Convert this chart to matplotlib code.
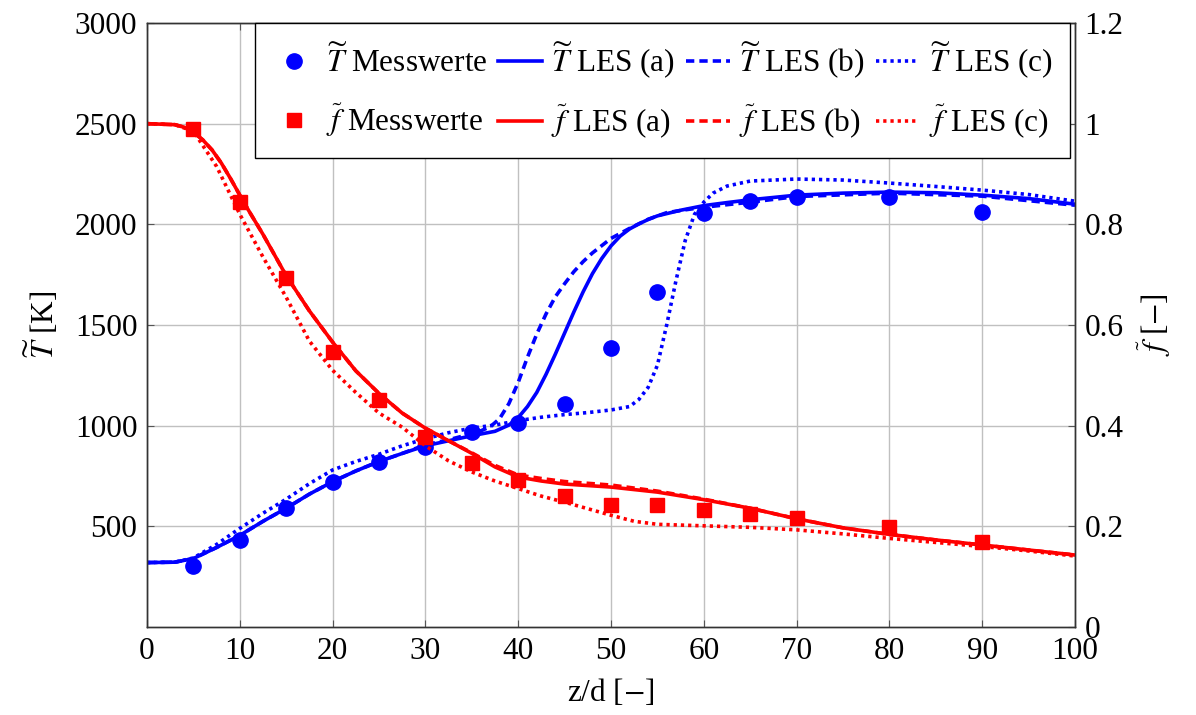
import matplotlib
matplotlib.use("Agg")
import matplotlib.pyplot as plt

plt.rcParams['font.family'] = ['Liberation Serif', 'DejaVu Serif']
plt.rcParams['mathtext.fontset'] = 'stix'
plt.rcParams['font.size'] = 22.5

# Messwerte (Temperatur, linke Achse)
z_T_mess = [5, 10, 15, 20, 25, 30, 35, 40, 45, 50, 55, 60, 65, 70, 80, 90]
T_mess = [302, 432, 591, 722, 822, 896, 968, 1013, 1110, 1384, 1664, 2056, 2118, 2134, 2134, 2060]

# Messwerte (Mischungsbruch, rechte Achse)
z_f_mess = [5, 10, 15, 20, 25, 30, 35, 40, 45, 50, 55, 60, 65, 70, 80, 90]
f_mess = [0.989, 0.845, 0.693, 0.547, 0.451, 0.378, 0.325, 0.292, 0.260, 0.243, 0.243, 0.233, 0.224, 0.216, 0.199, 0.168]

# LES (a)
z_Ta = [0, 3, 5, 7.5, 10, 12.5, 15, 17.5, 20, 22.5, 25, 27.5, 30, 32.5, 35, 37.5, 39, 40, 41, 42, 43, 44,
        45, 46, 47, 48, 49, 50, 51, 52, 53, 54, 55, 57.5, 60, 62.5, 65, 70, 75, 80, 85, 90, 95, 100]
T_a = [320, 322, 340, 395, 455, 525, 590, 660, 722, 775, 822, 862, 900, 925, 950, 972, 1003, 1040, 1095,
       1165, 1255, 1355, 1460, 1565, 1665, 1755, 1830, 1893, 1942, 1977, 2002, 2024, 2042, 2070, 2093,
       2108, 2122, 2145, 2155, 2160, 2157, 2145, 2128, 2100]

# LES (b)
z_Tb = [0, 3, 5, 7.5, 10, 12.5, 15, 17.5, 20, 22.5, 25, 27.5, 30, 32.5, 35, 36, 37, 38, 39, 40, 41, 42,
        43, 44, 45, 46, 47, 48, 50, 52, 54, 56, 58, 60, 65, 70, 80, 90, 100]
T_b = [320, 322, 340, 395, 455, 525, 590, 660, 722, 775, 822, 862, 905, 930, 960, 975, 995, 1035, 1110,
       1215, 1340, 1455, 1555, 1640, 1705, 1765, 1815, 1858, 1930, 1980, 2025, 2058, 2072, 2085, 2110,
       2138, 2155, 2140, 2095]

# LES (c)
z_Tc = [0, 3, 5, 7.5, 10, 12.5, 15, 17.5, 20, 22.5, 25, 27.5, 30, 32.5, 35, 37.5, 40, 42.5, 45, 47.5, 50,
        52, 53, 54, 55, 56, 57, 58, 59, 60, 61, 62.5, 65, 70, 75, 80, 85, 90, 95, 100]
T_c = [320, 322, 343, 410, 490, 565, 635, 712, 780, 822, 858, 900, 935, 965, 988, 1003, 1025, 1042, 1055,
       1065, 1078, 1095, 1130, 1190, 1300, 1500, 1720, 1920, 2050, 2110, 2155, 2190, 2215, 2225, 2220,
       2205, 2188, 2170, 2148, 2115]

z_f = [0, 3, 4, 5, 6, 7, 8, 9, 10, 11, 12.5, 15, 17.5, 20, 22.5, 25, 27.5, 30, 32.5, 35, 37.5, 40, 42.5,
       45, 50, 55, 60, 65, 70, 75, 80, 85, 90, 95, 100]
f_a = [1.0, 0.998, 0.993, 0.983, 0.968, 0.948, 0.922, 0.891, 0.858, 0.826, 0.78, 0.698, 0.628, 0.566,
       0.509, 0.464, 0.425, 0.395, 0.370, 0.345, 0.318, 0.298, 0.290, 0.284, 0.278, 0.268, 0.253, 0.236,
       0.215, 0.197, 0.184, 0.173, 0.163, 0.153, 0.143]
f_b = [1.0, 0.998, 0.993, 0.983, 0.968, 0.948, 0.922, 0.891, 0.858, 0.826, 0.78, 0.698, 0.628, 0.566,
       0.509, 0.464, 0.425, 0.395, 0.370, 0.346, 0.321, 0.302, 0.295, 0.289, 0.282, 0.270, 0.254, 0.236,
       0.215, 0.197, 0.184, 0.173, 0.163, 0.153, 0.143]

z_fc = [0, 3, 5, 7.5, 10, 12.5, 15, 17.5, 20, 22.5, 25, 27.5, 30, 32.5, 35, 37.5, 40, 42.5, 45, 47.5,
        50, 52.5, 55, 60, 65, 70, 75, 80, 85, 90, 95, 100]
f_c = [1.0, 0.998, 0.985, 0.915, 0.82, 0.735, 0.655, 0.568, 0.51, 0.466, 0.425, 0.397, 0.36, 0.33,
       0.308, 0.29, 0.275, 0.26, 0.248, 0.235, 0.222, 0.21, 0.204, 0.201, 0.198, 0.193, 0.185, 0.176,
       0.168, 0.160, 0.151, 0.141]

blau = '#0000ff'
rot = '#ff0000'
lw = 2.6
dash = (0, (2.3, 1.4))
dot = (0, (0.9, 1.1))

fig = plt.figure(figsize=(11.96, 7.15), dpi=100)
ax = fig.add_axes([147 / 1196, 1 - 627 / 715, 928 / 1196, 604 / 715])
ax2 = ax.twinx()

h_Tm, = ax.plot(z_T_mess, T_mess, 'o', color=blau, ms=11, zorder=5)
h_Ta, = ax.plot(z_Ta, T_a, '-', color=blau, lw=lw)
h_Tb, = ax.plot(z_Tb, T_b, color=blau, lw=lw, ls=dash, dash_capstyle='butt')
h_Tc, = ax.plot(z_Tc, T_c, color=blau, lw=lw, ls=dot, dash_capstyle='butt')

h_fm, = ax2.plot(z_f_mess, f_mess, 's', color=rot, ms=10.5, zorder=5)
h_fa, = ax2.plot(z_f, f_a, '-', color=rot, lw=lw)
h_fb, = ax2.plot(z_f, f_b, color=rot, lw=lw, ls=dash, dash_capstyle='butt')
h_fc, = ax2.plot(z_fc, f_c, color=rot, lw=lw, ls=dot, dash_capstyle='butt')

ax.set_xlim(0, 100)
ax.set_ylim(0, 3000)
ax2.set_ylim(0, 1.2)
ax.set_xticks(range(0, 101, 10))
ax.set_yticks([500, 1000, 1500, 2000, 2500, 3000])
ax2.set_yticks([0, 0.2, 0.4, 0.6, 0.8, 1.0, 1.2])
ax2.set_yticklabels(['0', '0.2', '0.4', '0.6', '0.8', '1', '1.2'])

ax.grid(True, color='#c0c0c0', lw=1.0)
ax.set_axisbelow(True)
ax.tick_params(axis='both', direction='in', length=5, color='#555555', top=True, pad=7)
ax2.tick_params(axis='y', direction='in', length=5, color='#555555', pad=7)
for a in (ax, ax2):
    for s in a.spines.values():
        s.set_color('#333333')
        s.set_linewidth(1.0)

ax.set_xlabel(r'z/d [$-$]', labelpad=8)
ax.set_ylabel(r'$\widetilde{T}$ [K]', labelpad=10)
ax2.set_ylabel(r'$\widetilde{f}$ [$-$]', labelpad=8)

handles = [h_Tm, h_fm, h_Ta, h_fa, h_Tb, h_fb, h_Tc, h_fc]
labels = [r'$\widetilde{T}$ Messwerte', r'$\widetilde{f}$ Messwerte',
          r'$\widetilde{T}$ LES (a)', r'$\widetilde{f}$ LES (a)',
          r'$\widetilde{T}$ LES (b)', r'$\widetilde{f}$ LES (b)',
          r'$\widetilde{T}$ LES (c)', r'$\widetilde{f}$ LES (c)']
leg = ax2.legend(handles, labels, ncol=4, loc='upper right', bbox_to_anchor=(0.9946, 1.0),
                 borderaxespad=0, fancybox=False, framealpha=1, edgecolor='black',
                 handlelength=1.4, handletextpad=0.3, columnspacing=0.35, labelspacing=0.7,
                 borderpad=0.55, numpoints=1, fontsize=22.5)
leg.get_frame().set_linewidth(1.0)

fig.savefig('out.png', dpi=100)
